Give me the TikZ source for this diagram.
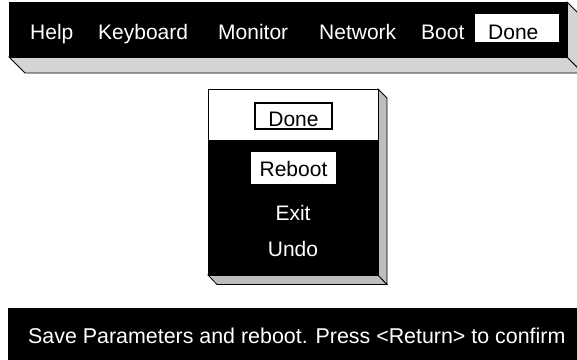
\documentclass[tikz,border=0pt]{standalone}
\usepackage{fontspec}
\setmainfont{Liberation Sans}
\begin{document}
\begin{tikzpicture}[x=1pt,y=-1pt,
  lbl/.style={inner sep=0pt,anchor=base west,font=\fontsize{21}{25}\selectfont},
  wlbl/.style={lbl,text=white},
  clbl/.style={inner sep=0pt,anchor=base,font=\fontsize{21}{25}\selectfont},
  bevelA/.style={fill=black!17,draw=black,line width=0.8pt,line join=miter},
  bevelB/.style={fill=black!26,draw=black,line width=0.8pt,line join=miter},
  panel/.style={draw=black,line width=0.8pt}]
\useasboundingbox (0,0) rectangle (577,359);
\clip (0,0) rectangle (577,359);
% top bar
\filldraw[bevelA] (9,57) -- (567,57) -- (583,73) -- (25,73) -- cycle;
\filldraw[bevelA] (567,2) -- (583,18) -- (583,73) -- (567,57) -- cycle;
\filldraw[panel,fill=black] (9,2) rectangle (567,57);
\fill[white] (475,14) rectangle (559,42);
\node[wlbl] (help) at (30,39) {Help};
\node[wlbl] (kbd) at (98,39) {Keyboard};
\node[wlbl] (mon) at (218,39) {Monitor};
\node[wlbl] (net) at (319,39) {Network};
\node[wlbl] (boot) at (421,39) {Boot};
\node[lbl] (done) at (488,39) {Done};
% menu
\filldraw[bevelB] (208,275) -- (378,275) -- (387,284.5) -- (217,284.5) -- cycle;
\filldraw[bevelB] (378,89) -- (387,98) -- (387,284.5) -- (378,275) -- cycle;
\fill[white] (208,89) rectangle (378,140);
\fill[black] (208,140) rectangle (378,275);
\draw[panel] (208,89) rectangle (378,275);
\draw[line width=1.5pt] (255,103) rectangle (332,129);
\fill[white] (251,152) rectangle (336,184);
\node[clbl] (mdone) at (293.5,126) {Done};
\node[clbl] (reboot) at (293.5,176) {Reboot};
\node[clbl,text=white] (exit) at (293,220) {Exit};
\node[clbl,text=white] (undo) at (293,256) {Undo};
% status bar
\fill[black] (8,308) rectangle (600,400);
\node[wlbl,font=\fontsize{21.4}{25}\selectfont] (status) at (28,343) {Save Parameters and reboot. Press <Return> to confirm};
\end{tikzpicture}
\end{document}
